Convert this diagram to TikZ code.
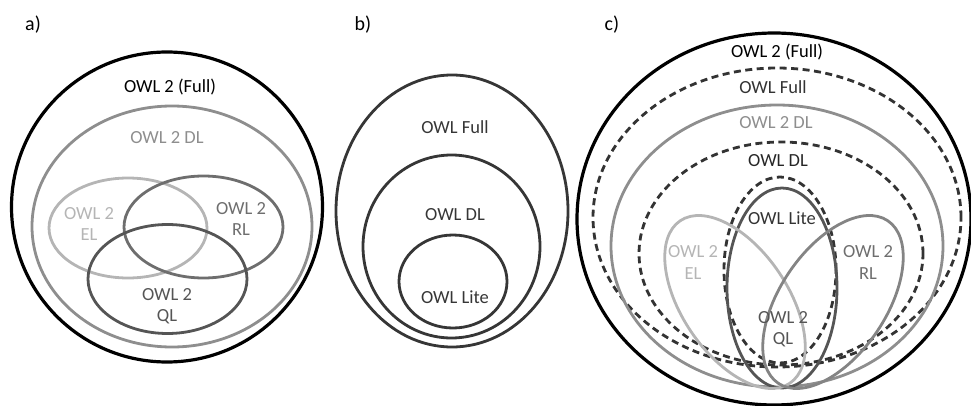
\documentclass[tikz,border=0pt]{standalone}
\usepackage{fontspec}
\setmainfont{Carlito}
\definecolor{cDL}{HTML}{8E8E8E}
\definecolor{cEL}{HTML}{B5B5B5}
\definecolor{cRL}{HTML}{6E6E6E}
\definecolor{cQL}{HTML}{555555}
\definecolor{cB}{HTML}{363636}
\definecolor{cDash}{HTML}{333333}
\tikzset{
  blackring/.style={draw=black, line width=3.2pt},
  ring/.style={line width=2.8pt},
  dashring/.style={draw=cDash, line width=2.8pt, dash pattern=on 7pt off 4.5pt},
  lbl/.style={font=\fontsize{18.5}{21.5}\selectfont, align=center, inner sep=0pt},
  plabel/.style={font=\fontsize{20}{23}\selectfont, inner sep=0pt}
}
\begin{document}
\begin{tikzpicture}[x=1pt,y=1pt]
\useasboundingbox (0,0) rectangle (971,405);
% ---------------- panel a ----------------
\node[plabel] (la) at (33,380) {a)};
\draw[blackring] (167,198) ellipse [x radius=155.5, y radius=155];
\draw[ring, draw=cDL] (172,178.5) ellipse [x radius=140, y radius=120.5];
\draw[ring, draw=cEL] (128,177) ellipse [x radius=79, y radius=50];
\draw[ring, draw=cRL] (203.5,178) ellipse [x radius=79.5, y radius=51];
\draw[ring, draw=cQL] (167.5,126) ellipse [x radius=79.5, y radius=54.5];
\node[lbl, text=black] (aFull) at (170,318) {OWL 2 (Full)};
\node[lbl, text=cDL] (aDL) at (167,267) {OWL 2 DL};
\node[lbl, text=cEL] (aEL) at (89,181) {OWL 2\\EL};
\node[lbl, text=cRL] (aRL) at (241,186) {OWL 2\\RL};
\node[lbl, text=cQL] (aQL) at (167,99) {OWL 2\\QL};
% ---------------- panel b ----------------
\node[plabel] (lb) at (363,380) {b)};
\draw[ring, draw=cB] (452,194) ellipse [x radius=116, y radius=136];
\draw[ring, draw=cB] (451.5,158.5) ellipse [x radius=88.5, y radius=91.5];
\draw[ring, draw=cB] (453,123.5) ellipse [x radius=54, y radius=46.5];
\node[lbl, text=cB] (bFull) at (455,278) {OWL Full};
\node[lbl, text=cB] (bDL) at (455,190) {OWL DL};
\node[lbl, text=cB] (bLite) at (455,108) {OWL Lite};
% ---------------- panel c ----------------
\node[plabel] (lc) at (612,380) {c)};
\draw[blackring] (774,186) ellipse [x radius=197, y radius=186];
\draw[dashring] (777,187.5) ellipse [x radius=184, y radius=149.5];
\draw[ring, draw=cDL] (777,159) ellipse [x radius=166, y radius=141];
\draw[dashring] (781,151.5) ellipse [x radius=142, y radius=111.5];
\draw[dashring] (780,135) ellipse [x radius=56, y radius=93];
\draw[ring, draw=cQL] (782,117) ellipse [x radius=55, y radius=100];
\draw[ring, draw=cEL, rotate around={124:(735,103)}] (735,103) ellipse [x radius=98, y radius=53];
\draw[ring, draw=cRL!85!white, rotate around={56:(833,103)}] (833,103) ellipse [x radius=98, y radius=53];
\node[lbl, text=black] (cFull2) at (777,353) {OWL 2 (Full)};
\node[lbl, text=cDash] (cFull) at (773,318) {OWL Full};
\node[lbl, text=cDL] (cDL2) at (776,282) {OWL 2 DL};
\node[lbl, text=black!85] (cDL) at (778,244) {OWL DL};
\node[lbl, text=cDash] (cLite) at (782,187) {OWL Lite};
\node[lbl, text=cEL] (cEL) at (693,142.5) {OWL 2\\EL};
\node[lbl, text=cRL] (cRL) at (868,142.5) {OWL 2\\RL};
\node[lbl, text=cQL] (cQL) at (783,76) {OWL 2\\QL};
\end{tikzpicture}
\end{document}
